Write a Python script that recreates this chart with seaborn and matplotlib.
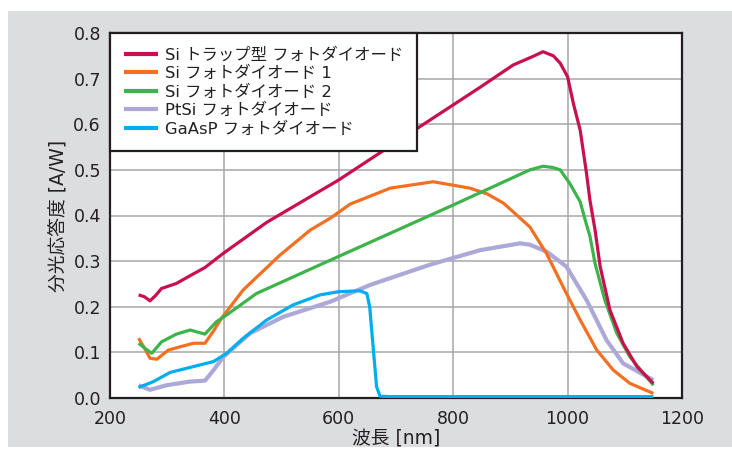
import matplotlib
matplotlib.use("Agg")
import matplotlib.pyplot as plt
from matplotlib.patches import Rectangle
import seaborn as sns
import pandas as pd

# ---- data ----
series_names = ["Si トラップ型 フォトダイオード", "Si フォトダイオード 1", "Si フォトダイオード 2",
                "PtSi フォトダイオード", "GaAsP フォトダイオード"]
series_colors = ["#C8104E", "#F36F21", "#3CB44A", "#ACA8D8", "#00AEEF"]

trap_wl = [250, 260, 270, 280, 290, 316, 340, 366, 398, 474, 600, 680, 847, 905, 940, 957, 975, 987,
           1000, 1010, 1022, 1033, 1039, 1048, 1057, 1074, 1097, 1121, 1150]
trap_val = [0.226, 0.222, 0.213, 0.225, 0.240, 0.251, 0.268, 0.286, 0.317, 0.385, 0.478, 0.544, 0.681,
            0.730, 0.749, 0.759, 0.750, 0.734, 0.704, 0.646, 0.587, 0.493, 0.434, 0.368, 0.288, 0.193,
            0.120, 0.069, 0.032]

si1_wl = [250, 260, 270, 282, 302, 322, 346, 366, 380, 395, 433, 497, 550, 585, 620, 690, 765, 829,
          860, 888, 934, 963, 998, 1022, 1051, 1080, 1109, 1150]
si1_val = [0.131, 0.110, 0.087, 0.085, 0.105, 0.112, 0.120, 0.120, 0.145, 0.175, 0.237, 0.313, 0.368,
           0.394, 0.425, 0.460, 0.474, 0.460, 0.447, 0.427, 0.375, 0.317, 0.229, 0.171, 0.105, 0.061,
           0.032, 0.010]

si2_wl = [250, 262, 273, 290, 316, 340, 366, 386, 404, 456, 585, 800, 934, 957, 975, 987, 1004, 1022,
          1033, 1039, 1048, 1065, 1086, 1109, 1150]
si2_val = [0.120, 0.108, 0.098, 0.123, 0.140, 0.149, 0.140, 0.167, 0.182, 0.229, 0.302, 0.423, 0.500,
           0.508, 0.505, 0.500, 0.470, 0.430, 0.380, 0.355, 0.295, 0.215, 0.142, 0.090, 0.028]

ptsi_wl = [250, 262, 270, 299, 340, 366, 381, 398, 445, 503, 585, 655, 759, 847, 917, 934, 963, 998,
           1033, 1068, 1097, 1150]
ptsi_val = [0.028, 0.022, 0.018, 0.028, 0.036, 0.038, 0.061, 0.090, 0.142, 0.178, 0.211, 0.248, 0.292,
            0.324, 0.339, 0.336, 0.321, 0.288, 0.215, 0.127, 0.076, 0.039]

gaasp_wl = [250, 276, 305, 340, 381, 404, 433, 474, 520, 567, 600, 637, 649, 654, 660, 666, 672, 690, 1150]
gaasp_val = [0.023, 0.036, 0.056, 0.067, 0.080, 0.098, 0.131, 0.171, 0.204, 0.226, 0.233, 0.235, 0.229,
             0.200, 0.112, 0.025, 0.004, 0.003, 0.003]

x_ticks = [200, 400, 600, 800, 1000, 1200]
y_ticks = [0.0, 0.1, 0.2, 0.3, 0.4, 0.5, 0.6, 0.7, 0.8]
x_label = "波長 [nm]"
y_label = "分光応答度 [A/W]"

# ---- style ----
sns.set_theme(style="white")
plt.rcParams['font.family'] = ['DejaVu Sans', 'Noto Sans CJK JP']
text_color = "#231F20"

fig = plt.figure(figsize=(7.32, 4.51), dpi=100, facecolor="white")
fig.patches.append(Rectangle((8 / 732, 4 / 451), 1 - 8 / 732, (447 - 11) / 451,
                             transform=fig.transFigure, facecolor="#DCDDDF", edgecolor="none", zorder=-10))
ax = fig.add_axes([110 / 732, 1 - 398 / 451, (682 - 110) / 732, (398 - 33) / 451])
ax.set_zorder(5)
ax.set_facecolor("white")

all_wl = [trap_wl, si1_wl, si2_wl, ptsi_wl, gaasp_wl]
all_val = [trap_val, si1_val, si2_val, ptsi_val, gaasp_val]
widths = [2.3, 2.3, 2.3, 3.0, 2.3]
zorders = [4, 3, 3.5, 2, 5]
for name, color, wl, val, lw, z in zip(series_names, series_colors, all_wl, all_val, widths, zorders):
    df = pd.DataFrame({"wl": wl, "val": val})
    sns.lineplot(data=df, x="wl", y="val", ax=ax, color=color, linewidth=lw, label=name,
                 zorder=z, solid_joinstyle="round", solid_capstyle="butt")

ax.set_xlim(200, 1200)
ax.set_ylim(0, 0.8)
ax.set_xticks(x_ticks)
ax.set_yticks(y_ticks)
ax.set_xticklabels([str(t) for t in x_ticks])
ax.set_yticklabels([f"{t:.1f}" for t in y_ticks])
ax.tick_params(axis="both", length=0, labelsize=12.5, colors=text_color)
ax.tick_params(axis="y", pad=6.5)
ax.tick_params(axis="x", pad=8.5)
ax.grid(True, color="#A7A7A7", linewidth=1.1, zorder=0)
ax.set_axisbelow(True)
for s in ax.spines.values():
    s.set_color("#231F20")
    s.set_linewidth(1.6)
    s.set_visible(True)

ax.set_xlabel(x_label, fontsize=13.5, color=text_color, labelpad=1)
ax.set_ylabel(y_label, fontsize=13.5, color=text_color, labelpad=4)

leg = ax.legend(loc="upper left", bbox_to_anchor=(0, 1), borderaxespad=0, fontsize=11.8,
                frameon=True, fancybox=False, edgecolor="#231F20", facecolor="white", framealpha=1,
                handlelength=2.1, handletextpad=0.4, labelspacing=0.2, borderpad=0.85)
leg.get_frame().set_linewidth(1.6)
for t in leg.get_texts():
    t.set_color(text_color)
for h in leg.get_lines():
    h.set_linewidth(3.0)
leg.set_zorder(10)

fig.savefig("out.png", dpi=100, facecolor="white")
